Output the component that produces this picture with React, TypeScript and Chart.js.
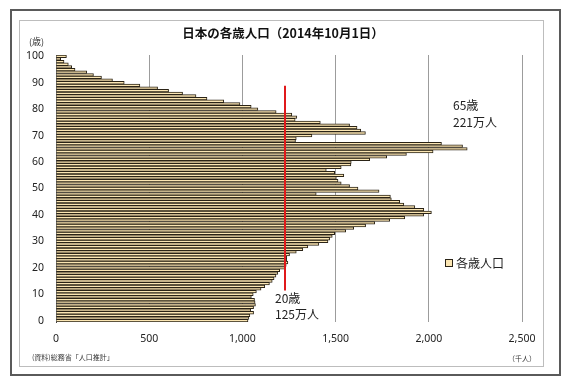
import { useEffect, useRef } from 'react';
import { Chart, registerables } from 'chart.js';

Chart.register(...registerables);

// ---- data (thousands of people, ages 0..100+) ----
const ages: string[] = Array.from({ length: 101 }, (_, i) => String(i));
const population: number[] = [
  1030, 1035, 1040, 1060, 1045, 1060, 1070, 1068, 1065, 1048,
  1058, 1075, 1100, 1120, 1145, 1160, 1170, 1180, 1190, 1200,
  1230, 1235, 1244, 1238, 1238, 1253, 1289, 1324, 1351, 1410,
  1459, 1468, 1482, 1495, 1554, 1597, 1661, 1710, 1790, 1871,
  1973, 2014, 1973, 1925, 1866, 1844, 1799, 1794, 1396, 1733,
  1620, 1575, 1530, 1513, 1504, 1544, 1495, 1450, 1530, 1582,
  1584, 1683, 1774, 1880, 2023, 2206, 2181, 2068, 1285, 1289,
  1373, 1660, 1635, 1615, 1575, 1418, 1283, 1292, 1265, 1181,
  1083, 1047, 987, 900, 810, 751, 679, 604, 545, 450,
  366, 303, 244, 201, 165, 102, 84, 66, 43, 25,
  56,
];
const xTickValues: number[] = [0, 500, 1000, 1500, 2000, 2500];
const yTickStep = 10;
const seriesName = '各歳人口';
const titleText = '日本の各歳人口（2014年10月1日）';
const markerValue = 1230; // red reference line (thousands)
const markerAgeTop = 88.9;
const markerAgeBottom = 11.4;
const note65 = ['65歳', '221万人'];
const note20 = ['20歳', '125万人'];
const sourceText = '(資料)総務省「人口推計」';
const xUnit = '（千人）';
const yUnit = '(歳)';

const JP = "'Noto Sans CJK JP', 'Noto Sans', sans-serif";
const NUM = "'Noto Sans', 'Noto Sans CJK JP', sans-serif";
const BAR_FILL = '#fbe6b3';
const BAR_BORDER = '#2a2316';

const framePlugin = {
  id: 'frame',
  beforeDraw(chart: any) {
    const ctx = chart.ctx;
    ctx.save();
    ctx.fillStyle = '#ffffff';
    ctx.fillRect(0, 0, chart.width, chart.height);
    ctx.strokeStyle = '#5a5a5a';
    ctx.lineWidth = 2;
    ctx.strokeRect(11, 10, 549, 365);
    ctx.strokeStyle = '#bdbdbd';
    ctx.lineWidth = 1;
    ctx.strokeRect(19.5, 20.5, 524, 346);
    ctx.restore();
  },
  afterDatasetsDraw(chart: any) {
    const ctx = chart.ctx;
    const xs = chart.scales.x;
    const ys = chart.scales.y;
    ctx.save();
    ctx.strokeStyle = '#e0191b';
    ctx.lineWidth = 2;
    ctx.beginPath();
    const mx = Math.round(xs.getPixelForValue(markerValue));
    ctx.moveTo(mx, ys.getPixelForValue(markerAgeTop));
    ctx.lineTo(mx, ys.getPixelForValue(markerAgeBottom));
    ctx.stroke();
    ctx.restore();
  },
  afterDraw(chart: any) {
    const ctx = chart.ctx;
    const xs = chart.scales.x;
    const ys = chart.scales.y;
    ctx.save();
    ctx.fillStyle = '#111';
    ctx.textBaseline = 'middle';
    // title
    ctx.font = `bold 12.5px ${JP}`;
    ctx.textAlign = 'center';
    ctx.fillText(titleText, 283, 33);
    // units
    ctx.textAlign = 'left';
    ctx.font = `9px ${JP}`;
    ctx.fillStyle = '#333';
    ctx.fillText(yUnit, 29, 42);
    ctx.font = `7px ${JP}`;
    ctx.fillText(sourceText, 32, 357);
    ctx.font = `7px ${JP}`;
    ctx.fillText(xUnit, 508, 358);
    // annotations
    ctx.fillStyle = '#222';
    ctx.font = `12px ${JP}`;
    const ax65 = xs.getPixelForValue(2130);
    ctx.fillText(note65[0], ax65, ys.getPixelForValue(81.3));
    ctx.fillText(note65[1], ax65, ys.getPixelForValue(74.9));
    const ax20 = xs.getPixelForValue(1175);
    ctx.fillText(note20[0], ax20, ys.getPixelForValue(8.6));
    ctx.fillText(note20[1], ax20, ys.getPixelForValue(2.2));
    // legend
    const lx = 445, ly = 263;
    ctx.fillStyle = BAR_FILL;
    ctx.fillRect(lx + 0.5, ly - 3.5, 7, 7);
    ctx.strokeStyle = BAR_BORDER;
    ctx.lineWidth = 1;
    ctx.strokeRect(lx + 0.5, ly - 3.5, 7, 7);
    ctx.fillStyle = '#222';
    ctx.font = `12px ${JP}`;
    ctx.fillText(seriesName, lx + 11, ly);
    ctx.restore();
  },
};

export default function App() {
  const ref = useRef<HTMLCanvasElement | null>(null);
  useEffect(() => {
    if (!ref.current) return;
    const chart = new Chart(ref.current, {
      type: 'bar',
      data: {
        labels: ages,
        datasets: [
          {
            label: seriesName,
            data: population,
            backgroundColor: BAR_FILL,
            borderColor: BAR_BORDER,
            borderWidth: 1,
            barPercentage: 1,
            categoryPercentage: 1,
          },
        ],
      },
      options: {
        indexAxis: 'y',
        responsive: false,
        maintainAspectRatio: false,
        animation: false,
        layout: { padding: { left: 0, right: 48, top: 55, bottom: 36 } },
        plugins: {
          legend: { display: false },
          title: { display: false },
          tooltip: { enabled: false },
        },
        scales: {
          x: {
            type: 'linear',
            min: 0,
            max: 2500,
            afterBuildTicks: (scale: any) => {
              scale.ticks = xTickValues.map((v) => ({ value: v }));
            },
            afterFit: (scale: any) => {
              scale.height = 25;
            },
            ticks: {
              padding: 11,
              color: '#222',
              font: { family: NUM, size: 10.5 },
              callback: (v: any) => Number(v).toLocaleString('en-US'),
            },
            grid: {
              color: (c: any) => (c.index === 0 ? 'rgba(0,0,0,0)' : '#9c9c9c'),
              lineWidth: 1,
              drawTicks: false,
            },
            border: { display: false },
          },
          y: {
            type: 'category',
            reverse: true,
            afterFit: (scale: any) => {
              scale.width = 56;
            },
            ticks: {
              autoSkip: false,
              padding: 12,
              color: '#222',
              font: { family: NUM, size: 10.5 },
              callback: (v: any) => (Number(v) % yTickStep === 0 ? String(ages[Number(v)]) : ''),
            },
            grid: { display: false, drawTicks: false },
            border: { display: true, color: '#444', width: 1 },
          },
        },
      },
      plugins: [framePlugin],
    } as any);
    return () => chart.destroy();
  }, []);
  return (
    <div style={{ position: 'absolute', left: 0, top: 0, width: 570, height: 383 }}>
      <canvas ref={ref} width={570} height={383} style={{ width: 570, height: 383, display: 'block' }} />
    </div>
  );
}
